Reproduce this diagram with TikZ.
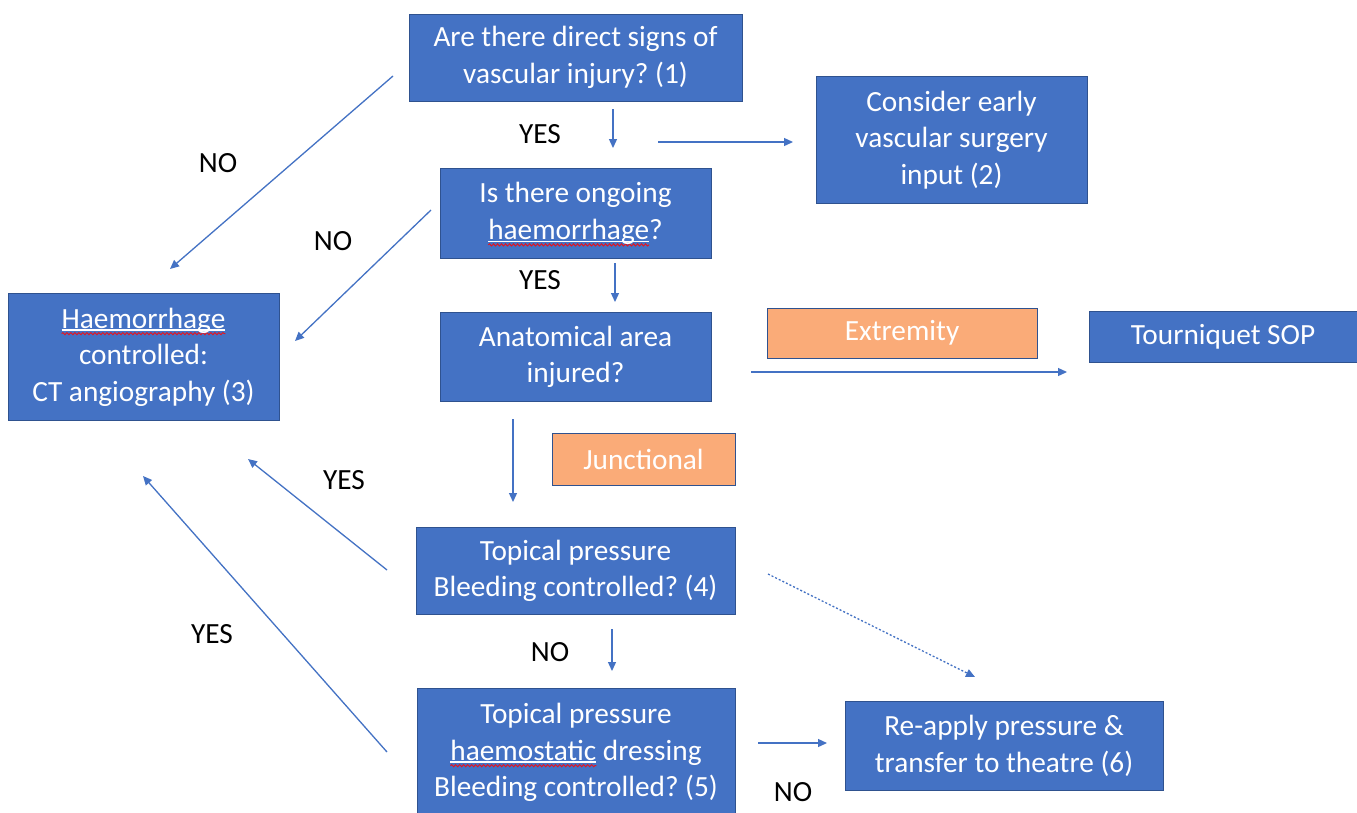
\documentclass[tikz,border=0pt]{standalone}
\usepackage{fontspec}
\setmainfont{Carlito}
\usetikzlibrary{arrows.meta,decorations.pathmorphing}
\definecolor{boxblue}{RGB}{68,114,196}
\definecolor{boxedge}{RGB}{47,82,143}
\definecolor{boxorange}{RGB}{250,171,120}
\definecolor{arrowblue}{RGB}{68,114,196}
\definecolor{sqred}{RGB}{230,20,30}
\frenchspacing
\newsavebox\sqbox
\newcommand\sq[1]{\sbox\sqbox{#1}%
 \rlap{\tikz[overlay,baseline=0pt]{\draw[sqred,line width=0.9pt,decorate,decoration={snake,amplitude=1.1pt,segment length=4pt}] (0pt,-5.5pt) -- (\the\wd\sqbox,-5.5pt);}}%
 \rlap{\lower2.5pt\hbox to\wd\sqbox{\color{white}\leaders\hrule height1.2pt\hfill}}%
 \usebox\sqbox}
\tikzset{
  bigtext/.style={font=\fontsize{29.3}{36.5}\selectfont},
  bluebox/.style={draw=boxedge, fill=boxblue, line width=1pt, text=white, align=center, inner sep=0pt, bigtext},
  orangebox/.style={draw=boxedge, fill=boxorange, line width=1pt, text=white, align=center, inner sep=0pt, bigtext},
  lbl/.style={text=black, inner sep=0pt, bigtext},
  arr/.style={draw=arrowblue, line width=1.3pt, -{Triangle[length=9pt,width=8pt]}},
  dotarr/.style={arr, dash pattern=on 2pt off 2pt},
}
\begin{document}
\begin{tikzpicture}[x=1pt,y=-1pt]
\useasboundingbox (0,0) rectangle (1357,812);
\clip (0,0) rectangle (1357,812);
\fill[white] (0,0) rectangle (1357,812);

% boxes
\node[bluebox, minimum width=333pt, minimum height=87pt] (q1) at (575.5,57.5) {Are there direct signs of\\vascular injury? (1)};
\node[bluebox, minimum width=271pt, minimum height=127pt] (surg) at (951.5,140) {Consider early\\vascular surgery\\input (2)};
\node[bluebox, minimum width=271pt, minimum height=90pt] (q2) at (575.5,213.5) {Is there ongoing\\\sq{haemorrhage}?};
\node[bluebox, minimum width=271pt, minimum height=127pt] (ct) at (143.5,357) {\sq{Haemorrhage}\\controlled:\\CT angiography (3)};
\node[bluebox, minimum width=271pt, minimum height=89pt] (area) at (575.5,357) {Anatomical area\\injured?};
\node[orangebox, minimum width=270pt, minimum height=50pt] (ext) at (902,333) {Extremity};
\node[bluebox, minimum width=268pt, minimum height=51pt] (tq) at (1223,336.5) {Tourniquet SOP};
\node[orangebox, minimum width=183pt, minimum height=52pt] (junc) at (643.5,459) {Junctional};
\node[bluebox, minimum width=319pt, minimum height=87pt] (tp4) at (575.5,571) {Topical pressure\\Bleeding controlled? (4)};
\node[bluebox, minimum width=318pt, minimum height=128pt] (tp5) at (576,752.5) {Topical pressure\\\sq{haemostatic} dressing\\Bleeding controlled? (5)};
\node[bluebox, minimum width=318pt, minimum height=89pt] (reap) at (1004,746) {Re-apply pressure \&\\transfer to theatre (6)};

% labels
\node[lbl] (l1) at (218,163) {NO};
\node[lbl] (l2) at (333,241) {NO};
\node[lbl] (l3) at (540,134) {YES};
\node[lbl] (l4) at (540,280) {YES};
\node[lbl] (l5) at (344,480) {YES};
\node[lbl] (l6) at (550,652) {NO};
\node[lbl] (l7) at (212,634) {YES};
\node[lbl] (l8) at (793,792) {NO};

% arrow end points
\coordinate (a1s) at (393,76);  \coordinate (a1e) at (170,269);
\coordinate (a2s) at (431,210); \coordinate (a2e) at (295,341);
\coordinate (a3s) at (613,109); \coordinate (a3e) at (613,148);
\coordinate (a4s) at (658,142); \coordinate (a4e) at (793,142);
\coordinate (a5s) at (615,263); \coordinate (a5e) at (615,302);
\coordinate (a6s) at (751,372); \coordinate (a6e) at (1067,372);
\coordinate (a7s) at (513,419); \coordinate (a7e) at (513,502);
\coordinate (a8s) at (387,570); \coordinate (a8e) at (248,459);
\coordinate (a9s) at (768,574); \coordinate (a9e) at (975,677);
\coordinate (a10s) at (612,629); \coordinate (a10e) at (612,671);
\coordinate (a11s) at (387,752); \coordinate (a11e) at (143,476);
\coordinate (a12s) at (758,743); \coordinate (a12e) at (827,743);

\draw[arr] (a1s) -- (a1e);
\draw[arr] (a2s) -- (a2e);
\draw[arr] (a3s) -- (a3e);
\draw[arr] (a4s) -- (a4e);
\draw[arr] (a5s) -- (a5e);
\draw[arr] (a6s) -- (a6e);
\draw[arr] (a7s) -- (a7e);
\draw[arr] (a8s) -- (a8e);
\draw[dotarr] (a9s) -- (a9e);
\draw[arr] (a10s) -- (a10e);
\draw[arr] (a11s) -- (a11e);
\draw[arr] (a12s) -- (a12e);
\end{tikzpicture}
\end{document}
